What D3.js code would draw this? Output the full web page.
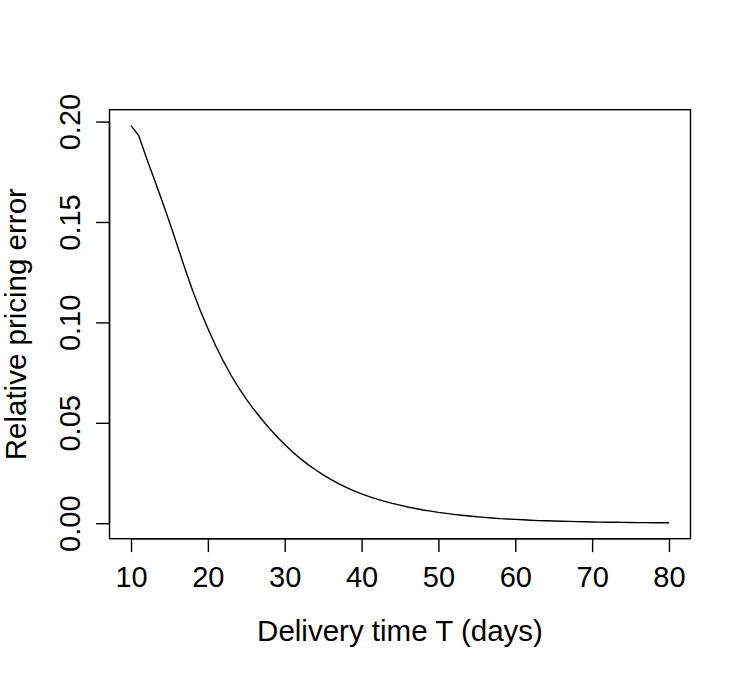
<!DOCTYPE html>
<html>
<head>
<meta charset="utf-8">
<script src="https://cdn.jsdelivr.net/npm/d3@7"></script>
<style>
  body { margin: 0; background: #fff; }
  text { font-family: "Liberation Sans", Arial, Helvetica, sans-serif; fill: #000; }
</style>
</head>
<body>
<script>
var svgWidth = 747;
var svgHeight = 675;
var box = {left: 109.5, right: 690.5, top: 109.7, bottom: 538.7};

// delivery time T (days), one point per day
var days = d3.range(10, 81);
// relative pricing error
var pricingError = [
  0.198, 0.193, 0.182, 0.1715, 0.161, 0.150, 0.1385, 0.127, 0.116, 0.106,
  0.097, 0.0885, 0.0808, 0.0738, 0.0675, 0.0618, 0.0566, 0.0518, 0.0473, 0.0431,
  0.0392, 0.0356, 0.0323, 0.0293, 0.0266, 0.0241, 0.0218, 0.0197, 0.0178, 0.0161,
  0.0146, 0.0132, 0.0120, 0.0109, 0.0099, 0.0090, 0.0081, 0.0073, 0.0066, 0.0060,
  0.0054, 0.0049, 0.0044, 0.0040, 0.0036, 0.0032, 0.0029, 0.0026, 0.0023, 0.0021,
  0.0019, 0.0017, 0.0015, 0.0013, 0.0012, 0.0011, 0.0010, 0.0009, 0.0008, 0.0007,
  0.0006, 0.00055, 0.0005, 0.00045, 0.0004, 0.00035, 0.0003, 0.00028, 0.00025, 0.00022,
  0.0002
];
var xTicks = [10, 20, 30, 40, 50, 60, 70, 80];
var yTicks = [0.00, 0.05, 0.10, 0.15, 0.20];

var data = days.map(function(t, i) { return {t: t, e: pricingError[i]}; });

// R style 4% padding on each side
function pad(ext) {
  var r = ext[1] - ext[0];
  return [ext[0] - 0.04 * r, ext[1] + 0.04 * r];
}

var x = d3.scaleLinear().domain(pad(d3.extent(days))).range([box.left, box.right]);
var y = d3.scaleLinear().domain(pad(d3.extent(pricingError))).range([box.bottom, box.top]);

var svg = d3.select("body").append("svg")
  .attr("width", svgWidth).attr("height", svgHeight);

// the curve
svg.append("path")
  .datum(data)
  .attr("fill", "none")
  .attr("stroke", "#000")
  .attr("stroke-width", 1.4)
  .attr("d", d3.line().x(function(d) { return x(d.t); }).y(function(d) { return y(d.e); }));

// box
svg.append("rect")
  .attr("x", box.left).attr("y", box.top)
  .attr("width", box.right - box.left).attr("height", box.bottom - box.top)
  .attr("fill", "none").attr("stroke", "#000").attr("stroke-width", 1.4);

// x axis
var xAxis = svg.append("g")
  .attr("transform", "translate(0," + box.bottom + ")")
  .call(d3.axisBottom(x).tickValues(xTicks).tickSize(13.4).tickFormat(d3.format("d")));
xAxis.select(".domain").remove();
xAxis.selectAll(".tick line").attr("stroke", "#000").attr("stroke-width", 1.4);
xAxis.selectAll(".tick text")
  .attr("y", 48.5).attr("dy", null)
  .style("font-size", "29px");
xAxis.append("line")
  .attr("x1", x(xTicks[0])).attr("x2", x(xTicks[xTicks.length - 1]))
  .attr("stroke", "#000").attr("stroke-width", 1.4);

// y axis
var yAxis = svg.append("g")
  .attr("transform", "translate(" + box.left + ",0)")
  .call(d3.axisLeft(y).tickValues(yTicks).tickSize(13.4).tickFormat(d3.format(".2f")));
yAxis.select(".domain").remove();
yAxis.selectAll(".tick line").attr("stroke", "#000").attr("stroke-width", 1.4);
yAxis.selectAll(".tick text")
  .attr("x", 0).attr("dy", null)
  .attr("text-anchor", "middle")
  .attr("transform", "translate(-29.5,0) rotate(-90)")
  .style("font-size", "29px");
yAxis.append("line")
  .attr("y1", y(yTicks[0])).attr("y2", y(yTicks[yTicks.length - 1]))
  .attr("stroke", "#000").attr("stroke-width", 1.4);

// titles
svg.append("text")
  .attr("x", (box.left + box.right) / 2).attr("y", 641)
  .attr("text-anchor", "middle")
  .style("font-size", "29.5px")
  .text("Delivery time T (days)");

svg.append("text")
  .attr("text-anchor", "middle")
  .attr("transform", "translate(25.5," + (box.top + box.bottom) / 2 + ") rotate(-90)")
  .style("font-size", "29.5px")
  .text("Relative pricing error");
</script>
</body>
</html>
